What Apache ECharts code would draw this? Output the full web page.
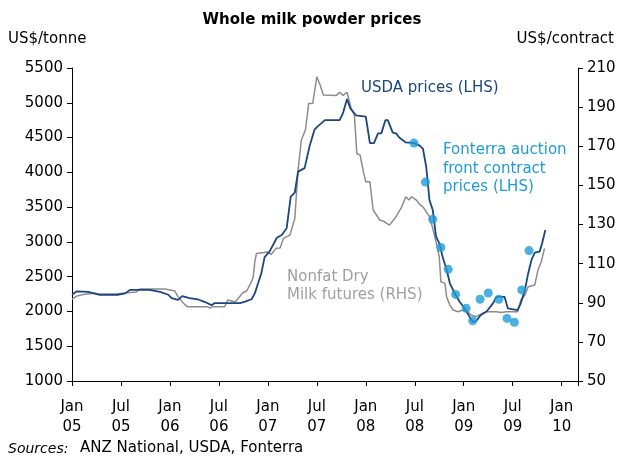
<!DOCTYPE html>
<html>
<head>
<meta charset="utf-8">
<script src="https://cdn.jsdelivr.net/npm/echarts@6/dist/echarts.min.js"></script>
<style>
  html, body { margin: 0; padding: 0; background: #ffffff; }
  #chart { width: 624px; height: 457px; }
</style>
</head>
<body>
<div id="chart"></div>
<script>
// x values are months since Jan 2005
var xTickLabels = ['Jan\n05', 'Jul\n05', 'Jan\n06', 'Jul\n06', 'Jan\n07', 'Jul\n07',
                   'Jan\n08', 'Jul\n08', 'Jan\n09', 'Jul\n09', 'Jan\n10'];

// USDA whole milk powder prices, US$/tonne (LHS)
var usdaX = [0, 0.6, 2.0, 2.2, 3.4, 5.6, 6.5, 7.1, 9.5, 10.8, 11.8, 12.2, 13.0, 13.5, 14.4, 15.4,
             16.3, 17.1, 17.5, 20.6, 21.2, 22.0, 22.4, 22.8, 23.2, 23.6, 24.2, 25.1, 25.7, 26.3,
             26.8, 27.3, 27.7, 28.5, 29.1, 29.7, 30.1, 31.0, 32.8, 33.2, 33.7, 34.1, 34.8, 36.0,
             36.5, 37.0, 37.5, 37.9, 38.4, 38.7, 39.3, 39.7, 40.1, 40.9, 41.9, 42.6, 43.0, 43.4,
             43.8, 44.2, 44.6, 45.0, 45.4, 45.9, 46.3, 46.9, 47.5, 48.1, 48.7, 49.1, 49.5, 50.1,
             50.8, 51.6, 52.0, 53.0, 53.4, 54.6, 55.0, 55.5, 55.9, 56.3, 56.7, 57.3, 57.6, 58.0];
var usdaY = [2240, 2290, 2280, 2260, 2240, 2240, 2260, 2310, 2310, 2280, 2240, 2190, 2165, 2220, 2190, 2175,
             2135, 2090, 2120, 2120, 2140, 2175, 2260, 2405, 2550, 2780, 2860, 3060, 3100, 3195,
             3650, 3710, 4010, 4060, 4370, 4610, 4660, 4750, 4750, 4850, 5055, 4920, 4820, 4800,
             4420, 4420, 4560, 4560, 4750, 4750, 4570, 4560, 4500, 4430, 4420, 4385, 4340, 4080,
             3600, 3460, 3080, 2980, 2790, 2600, 2405, 2260, 2140, 2045, 1925, 1850, 1860, 1950,
             2000, 2120, 2210, 2210, 2045, 2020, 2120, 2310, 2550, 2740, 2845, 2860, 2980, 3170];

// Nonfat dry milk futures, US$/contract (RHS)
var nfdmX = [0, 0.6, 1.6, 2.8, 3.4, 5.3, 6.5, 7.9, 8.3, 11.4, 12.0, 12.6, 13.0, 13.6, 14.1, 16.6,
             16.9, 17.3, 17.5, 18.1, 18.7, 19.1, 20.0, 20.2, 20.9, 21.4, 21.9, 22.2, 22.4, 22.6,
             24.0, 24.4, 25.0, 25.5, 25.9, 26.7, 27.3, 27.7, 28.1, 28.6, 29.0, 29.5, 30.0, 30.4,
             30.8, 32.4, 32.8, 33.2, 33.7, 34.2, 34.6, 34.9, 35.3, 35.7, 36.0, 36.5, 36.9, 37.7,
             38.3, 38.9, 39.7, 40.4, 40.6, 40.9, 41.3, 41.6, 42.2, 42.6, 43.0, 43.4, 43.8, 44.2,
             44.6, 45.0, 45.2, 45.7, 45.9, 46.3, 46.7, 47.3, 47.9, 48.5, 48.9, 49.5, 50.3, 50.8,
             52.0, 52.6, 53.2, 54.6, 55.0, 55.5, 55.9, 56.7, 57.1, 57.5, 57.9];
var nfdmY = [91.8, 93.4, 94.4, 94.8, 94.4, 94.4, 95.0, 95.5, 97.0, 97.0, 96.5, 96.0, 93.0, 90.0, 88.0, 88.0,
             87.3, 88.0, 87.0, 88.0, 88.0, 91.4, 90.4, 91.4, 95.0, 96.0, 100.0, 103.0, 111.0, 115.2,
             116.0, 114.7, 117.8, 118.0, 122.9, 124.6, 133.1, 157.8, 173.2, 178.3, 191.9, 192.0, 205.5, 201.3,
             196.2, 196.0, 197.6, 196.0, 197.6, 189.4, 186.0, 166.3, 165.5, 157.0, 151.8, 151.8, 137.4, 132.3,
             131.4, 129.7, 134.0, 139.0, 140.0, 144.2, 142.5, 144.2, 142.5, 140.3, 139.0, 136.5, 134.0, 128.0,
             121.2, 113.5, 100.7, 99.9, 93.0, 88.8, 86.3, 85.4, 86.3, 85.4, 83.7, 82.9, 84.6, 85.4,
             85.4, 85.0, 85.4, 85.4, 91.4, 94.0, 98.2, 99.1, 106.7, 111.0, 117.8];

// Fonterra auction front contract prices, US$/tonne (LHS)
var fonterraX = [41.9, 43.3, 44.2, 45.2, 46.1, 47.0, 48.3, 49.1, 50.0, 51.0, 52.3, 53.3, 54.2, 55.1, 56.0];
var fonterraY = [4420, 3860, 3325, 2920, 2605, 2245, 2045, 1867, 2175, 2265, 2175, 1900, 1845, 2310, 2875];

function pairs(xs, ys) {
  var out = [];
  for (var i = 0; i < xs.length; i++) out.push([xs[i], ys[i]]);
  return out;
}

var FONT = 'DejaVu Sans';
var chart = echarts.init(document.getElementById('chart'));

chart.setOption({
  animation: false,
  backgroundColor: '#ffffff',
  title: {
    text: 'Whole milk powder prices',
    left: 'center',
    top: 8,
    textStyle: { fontFamily: FONT, fontSize: 15, fontWeight: 'bold', color: '#000' }
  },
  grid: { left: 72, right: 46, top: 68, bottom: 76 },
  xAxis: {
    type: 'value',
    min: 0,
    max: 62,
    interval: 6,
    splitLine: { show: false },
    axisLine: { lineStyle: { color: '#000', width: 1 } },
    axisTick: { length: 5, lineStyle: { color: '#000' } },
    axisLabel: {
      margin: 16,
      fontFamily: FONT,
      fontSize: 15,
      lineHeight: 20,
      color: '#000',
      formatter: function (v) {
        return v % 6 === 0 ? (xTickLabels[v / 6] || '') : '';
      }
    }
  },
  yAxis: [
    {
      type: 'value',
      min: 1000,
      max: 5500,
      interval: 500,
      splitLine: { show: false },
      axisLine: { show: true, lineStyle: { color: '#000', width: 1 } },
      axisTick: { show: true, length: 5, lineStyle: { color: '#000' } },
      axisLabel: { margin: 9, fontFamily: FONT, fontSize: 15, color: '#000',
                   formatter: function (v) { return String(v); } }
    },
    {
      type: 'value',
      min: 50,
      max: 210,
      interval: 20,
      position: 'right',
      splitLine: { show: false },
      axisLine: { show: true, lineStyle: { color: '#000', width: 1 } },
      axisTick: { show: true, length: 5, lineStyle: { color: '#000' } },
      axisLabel: { margin: 9, fontFamily: FONT, fontSize: 15, color: '#000',
                   formatter: function (v) { return String(v); } }
    }
  ],
  graphic: [
    { type: 'text', left: 8, top: 32, style: { text: 'US$/tonne', font: '15px "DejaVu Sans"', fill: '#000' } },
    { type: 'text', right: 10, top: 32, style: { text: 'US$/contract', font: '15px "DejaVu Sans"', fill: '#000' } },
    { type: 'text', left: 361, top: 81, style: { text: 'USDA prices (LHS)', font: '15px "DejaVu Sans"', fill: '#1b467f' } },
    { type: 'text', left: 443, top: 141, style: { text: 'Fonterra auction\nfront contract\nprices (LHS)', font: '15px "DejaVu Sans"', lineHeight: 18.5, fill: '#1e9bd7' } },
    { type: 'text', left: 287, top: 268, style: { text: 'Nonfat Dry\nMilk futures (RHS)', font: '15px "DejaVu Sans"', lineHeight: 18, fill: '#a0a0a0' } },
    { type: 'text', left: 8, top: 442, style: { text: 'Sources:', font: 'italic 14px "DejaVu Sans"', fill: '#000' } },
    { type: 'text', left: 80, top: 441, style: { text: 'ANZ National, USDA, Fonterra', font: '15px "DejaVu Sans"', fill: '#000' } }
  ],
  series: [
    {
      name: 'Nonfat Dry Milk futures (RHS)',
      type: 'line',
      yAxisIndex: 1,
      data: pairs(nfdmX, nfdmY),
      showSymbol: false,
      lineStyle: { color: '#8c8c8c', width: 1.5 },
      z: 2
    },
    {
      name: 'USDA prices (LHS)',
      type: 'line',
      yAxisIndex: 0,
      data: pairs(usdaX, usdaY),
      showSymbol: false,
      lineStyle: { color: '#1b467f', width: 1.8 },
      z: 3
    },
    {
      name: 'Fonterra auction front contract prices (LHS)',
      type: 'scatter',
      yAxisIndex: 0,
      data: pairs(fonterraX, fonterraY),
      symbolSize: 9,
      itemStyle: { color: '#1e9bd7' },
      z: 4
    }
  ]
});
</script>
</body>
</html>
